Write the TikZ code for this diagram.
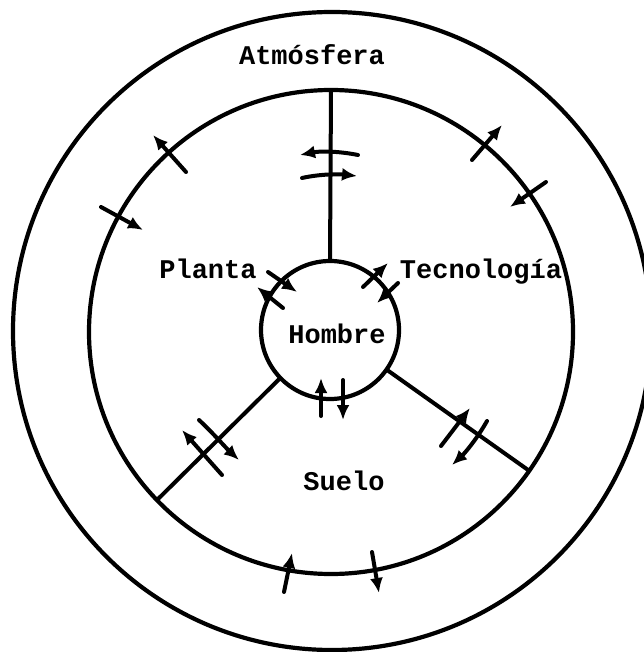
\documentclass[tikz,border=0pt]{standalone}
\usepackage{fontspec}
\setmonofont{Liberation Mono}
\usetikzlibrary{arrows.meta}
\begin{document}
\begin{tikzpicture}[x=1pt,y=-1pt,
  ring/.style={draw, circle, line width=4.2pt, inner sep=0pt, outer sep=0pt},
  spoke/.style={line width=4pt},
  flow/.style={line width=4pt, line cap=round, -{Latex[length=15pt,width=13pt]}},
  lbl/.style={anchor=base, inner sep=0pt, font=\ttfamily\bfseries\fontsize{27}{31}\selectfont}]
\useasboundingbox (0,0) rectangle (643,652);
\fill[white] (0,0) rectangle (643,652);
% circles
\node[ring, minimum size=638pt] (atm) at (332,331) {};
\node[ring, minimum size=484pt] (bio) at (331,332) {};
\node[ring, minimum size=138pt] (hom) at (330,330) {};
% spokes
\draw[spoke] (hom.90) -- (bio.90);
\draw[spoke] (hom.-136) -- (bio.-136);
\draw[spoke] (hom.-35) -- (bio.-35);
% labels
\node[lbl] (tatm) at (312,65) {Atmósfera};
\node[lbl] (tpla) at (208,278) {Planta};
\node[lbl] (ttec) at (481,278) {Tecnología};
\node[lbl] (thom) at (337,343) {Hombre};
\node[lbl] (tsue) at (344,490) {Suelo};
% arrows on the vertical spoke
\draw[flow] (358,155) .. controls (338,151) and (320,151) .. (300,155);
\draw[flow] (302,178) .. controls (320,174) and (338,174) .. (357,176);
% upper left, inner ring
\draw[flow] (186,172) -- (153,135);
\draw[flow] (101,207) -- (143,230);
% upper right, inner ring
\draw[flow] (472,160) -- (502,125);
\draw[flow] (546,182) -- (510,207);
% small circle, Planta side
\draw[flow] (268,272) -- (297,292);
\draw[flow] (283,308) -- (257,287);
% small circle, Tecnologia side
\draw[flow] (363,287) -- (388,263);
\draw[flow] (398,283) -- (377,303);
% small circle, bottom
\draw[flow] (321,416) -- (321,378);
\draw[flow] (343,380) -- (343,420);
% lower left spoke
\draw[flow] (222,475) -- (182,430);
\draw[flow] (199,420) .. controls (212,432) and (226,448) .. (239,460);
% lower right spoke
\draw[flow] (441,446) -- (470,408);
\draw[flow] (487,421) .. controls (478,437) and (466,452) .. (452,465);
% bottom, inner ring
\draw[flow] (284,592) -- (292,553);
\draw[flow] (372,552) -- (379,593);
\end{tikzpicture}
\end{document}
